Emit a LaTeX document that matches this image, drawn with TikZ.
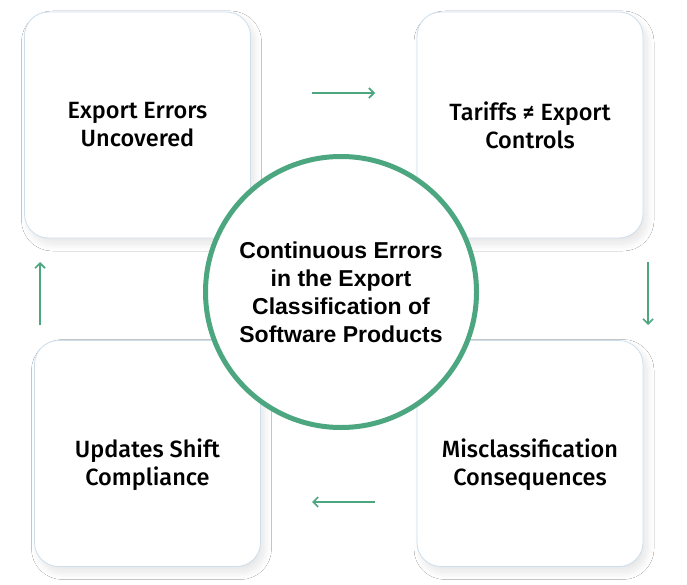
\documentclass[tikz,border=0pt]{standalone}
\usepackage{fontspec}
\setmainfont{Fira Sans}
\newfontfamily\cardfont{Fira Sans Medium}
\newfontfamily\hubfont{Liberation Sans}
\usetikzlibrary{shadows.blur,arrows.meta}
\definecolor{grn}{RGB}{76,166,128}
\definecolor{edge}{RGB}{205,222,236}
\tikzset{
  card/.style={draw=edge, line width=0.8pt, fill=white, rounded corners=24pt,
    minimum width=226pt, minimum height=226pt, align=center,
    font=\cardfont\fontsize{23.5}{28}\selectfont,
    blur shadow={shadow xshift=4pt, shadow yshift=-6pt, shadow blur radius=7pt, shadow opacity=10, shadow blur steps=10}},
  cardtext/.style={align=center, font=\cardfont\fontsize{23.5}{28}\selectfont},
  hub/.style={circle, draw=grn, line width=5pt, fill=white, minimum size=271pt, align=center,
    font=\hubfont\fontsize{23}{28}\selectfont\bfseries},
  flow/.style={draw=grn, line width=1.6pt, -{Straight Barb[length=5pt,width=10pt]}}
}
\begin{document}
\begin{tikzpicture}[x=1pt,y=-1pt]
\useasboundingbox[fill=white] (0,0) rectangle (687,585);
\node[card] (tl) at (137.5,125) {Export Errors\\Uncovered};
\node[card] (tr) at (530,125) {Tariffs ≠ Export\\Controls};
\node[card, label={[cardtext, yshift=-11pt]center:{Misclassification\\Consequences}}] (br) at (530,453.5) {};
\node[card, label={[cardtext, yshift=-11pt]center:{Updates Shift\\Compliance}}] (bl) at (147.5,453.5) {};
\node[hub] (c) at (341,292) {Continuous Errors\\in the Export\\Classification of\\Software Products};
\coordinate (a1) at (312,93); \coordinate (a2) at (375,93);
\coordinate (b1) at (648,262); \coordinate (b2) at (648,325);
\coordinate (c1) at (375,502); \coordinate (c2) at (312,502);
\coordinate (d1) at (40,325); \coordinate (d2) at (40,262);
\draw[flow] (a1) -- (a2);
\draw[flow] (b1) -- (b2);
\draw[flow] (c1) -- (c2);
\draw[flow] (d1) -- (d2);
\end{tikzpicture}
\end{document}
